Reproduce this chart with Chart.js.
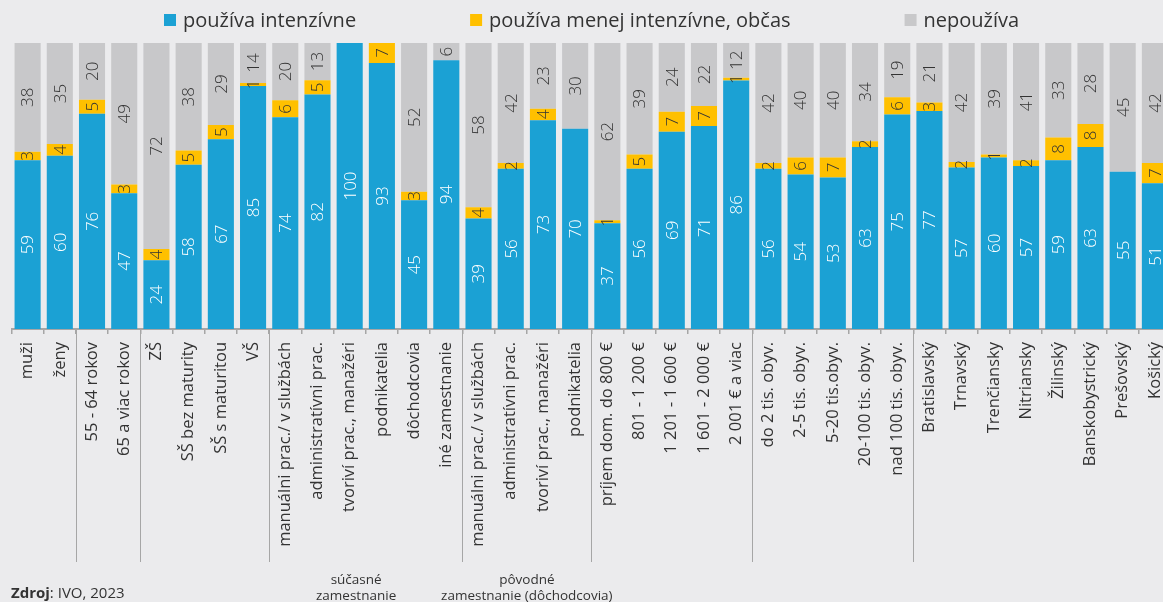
<!DOCTYPE html>
<html>
<head>
<meta charset="utf-8">
<script src="https://cdn.jsdelivr.net/npm/chart.js@4"></script>
<style>
  html, body { margin: 0; padding: 0; background: #ebebed; overflow: hidden; }
  canvas { display: block; }
</style>
</head>
<body>
<canvas id="usageChart" width="1171" height="602"></canvas>
<script>
const categories = [
  'muži', 'ženy', '55 - 64 rokov', '65 a viac rokov',
  'ZŠ', 'SŠ bez maturity', 'SŠ s maturitou', 'VŠ',
  'manuálni prac./ v službách', 'administratívni prac.', 'tvoriví prac., manažéri', 'podnikatelia', 'dôchodcovia', 'iné zamestnanie',
  'manuálni prac./ v službách', 'administratívni prac.', 'tvoriví prac., manažéri', 'podnikatelia',
  'príjem dom. do 800 €', '801 - 1 200 €', '1 201 - 1 600 €', '1 601 - 2 000 €', '2 001 € a viac',
  'do 2 tis. obyv.', '2-5 tis. obyv.', '5-20 tis.obyv.', '20-100 tis. obyv.', 'nad 100 tis. obyv.',
  'Bratislavský', 'Trnavský', 'Trenčiansky', 'Nitriansky', 'Žilinský', 'Banskobystrický', 'Prešovský', 'Košický'
]

const intensive = [59, 60, 76, 47, 24, 58, 67, 85, 74, 82, 100, 93, 45, 94, 39, 56, 73, 70, 37, 56, 69, 71, 86, 56, 54, 53, 63, 75, 77, 57, 60, 57, 59, 63, 55, 51]
const occasional = [3, 4, 5, 3, 4, 5, 5, 1, 6, 5, 0, 7, 3, 0, 4, 2, 4, 0, 1, 5, 7, 7, 1, 2, 6, 7, 2, 6, 3, 2, 1, 2, 8, 8, 0, 7]
const never = [38, 35, 20, 49, 72, 38, 29, 14, 20, 13, 0, 0, 52, 6, 58, 42, 23, 30, 62, 39, 24, 22, 12, 42, 40, 40, 34, 19, 21, 42, 39, 41, 33, 28, 45, 42]

const seriesNames = ['používa intenzívne', 'používa menej intenzívne, občas', 'nepoužíva']
const seriesColors = ['#1ba1d4', '#ffc000', '#c8c8ca']

// first category index of each new group (separator drawn before it)
const groupStarts = [2, 4, 8, 14, 18, 23, 28]
const groupLabels = [
  { lines: ['súčasné', 'zamestnanie'], at: 10.2 },
  { lines: ['pôvodné', 'zamestnanie (dôchodcovia)'], at: 15.5 }
]

const FONT = '"Open Sans", "Noto Sans", sans-serif'

// 100% stacked columns, like the original: each column is scaled to its own total
const totals = intensive.map((v, i) => v + occasional[i] + never[i])
const share = (arr) => arr.map((v, i) => v / totals[i] * 100)

const valueLabels = {
  id: 'valueLabels',
  afterDatasetsDraw(chart) {
    const ctx = chart.ctx
    ctx.save()
    ctx.font = '300 17px ' + FONT
    ctx.textAlign = 'center'
    ctx.textBaseline = 'middle'
    chart.data.datasets.forEach((ds, di) => {
      const meta = chart.getDatasetMeta(di)
      ctx.fillStyle = di === 0 ? '#ffffff' : '#333333'
      meta.data.forEach((bar, i) => {
        const v = ds.raw[i]
        if (!v) return
        const cy = (bar.y + bar.base) / 2
        ctx.save()
        ctx.translate(bar.x, cy)
        ctx.rotate(-Math.PI / 2)
        ctx.fillText(String(v), 0, 1)
        ctx.restore()
      })
    })
    ctx.restore()
  }
}

const extras = {
  id: 'extras',
  afterDraw(chart) {
    const ctx = chart.ctx
    const x = chart.scales.x
    const area = chart.chartArea
    ctx.save()

    // group separators below the axis
    ctx.strokeStyle = '#a6a6a6'
    ctx.lineWidth = 1
    groupStarts.forEach((g) => {
      const px = Math.round((x.getPixelForValue(g - 1) + x.getPixelForValue(g)) / 2) + 0.5
      ctx.beginPath()
      ctx.moveTo(px, area.bottom)
      ctx.lineTo(px, 562)
      ctx.stroke()
    })

    // group captions
    ctx.fillStyle = '#333333'
    ctx.font = '13.5px ' + FONT
    ctx.textAlign = 'center'
    ctx.textBaseline = 'middle'
    groupLabels.forEach((g) => {
      const px = x.getPixelForValue(g.at)
      ctx.fillText(g.lines[0], px, 580)
      ctx.fillText(g.lines[1], px, 596)
    })

    // source note
    ctx.textAlign = 'left'
    ctx.font = 'bold 15px ' + FONT
    ctx.fillText('Zdroj', 11, 594)
    const w = ctx.measureText('Zdroj').width
    ctx.font = '15px ' + FONT
    ctx.fillText(': IVO, 2023', 11 + w, 594)

    // legend
    ctx.font = '20px ' + FONT
    const box = 12, gapText = 7, gapItem = 114
    const widths = seriesNames.map((n) => box + gapText + ctx.measureText(n).width)
    let lx = 164
    const ly = 20
    seriesNames.forEach((n, i) => {
      ctx.fillStyle = seriesColors[i]
      ctx.fillRect(lx, ly - box / 2, box, box)
      ctx.fillStyle = '#333333'
      ctx.fillText(n, lx + box + gapText, ly + 1)
      lx += widths[i] + gapItem
    })

    ctx.restore()
  }
}

const canvas = document.getElementById('usageChart')

new Chart(canvas.getContext('2d'), {
  type: 'bar',
  data: {
    labels: categories,
    datasets: [
      { label: seriesNames[0], data: share(intensive), raw: intensive, backgroundColor: seriesColors[0] },
      { label: seriesNames[1], data: share(occasional), raw: occasional, backgroundColor: seriesColors[1] },
      { label: seriesNames[2], data: share(never), raw: never, backgroundColor: seriesColors[2] }
    ]
  },
  options: {
    responsive: false,
    animation: false,
    layout: {
      padding: { top: 43, left: 11.5, right: 0, bottom: 0 }
    },
    datasets: {
      bar: { categoryPercentage: 1, barPercentage: 0.81 }
    },
    plugins: {
      legend: { display: false },
      tooltip: { enabled: false }
    },
    scales: {
      x: {
        stacked: true,
        afterFit(scale) {
          scale.height = 273
          scale.paddingLeft = 0
          scale.paddingRight = 0
        },
        border: { display: true, color: '#a6a6a6', width: 2 },
        grid: {
          drawOnChartArea: false,
          drawTicks: true,
          tickLength: 5,
          color: '#a6a6a6',
          lineWidth: 1.5
        },
        ticks: {
          autoSkip: false,
          minRotation: 90,
          maxRotation: 90,
          padding: 8,
          color: '#333333',
          font: { family: FONT, size: 16.5 }
        }
      },
      y: {
        stacked: true,
        display: false,
        min: 0,
        max: 100
      }
    }
  },
  plugins: [valueLabels, extras]
})
</script>
</body>
</html>
